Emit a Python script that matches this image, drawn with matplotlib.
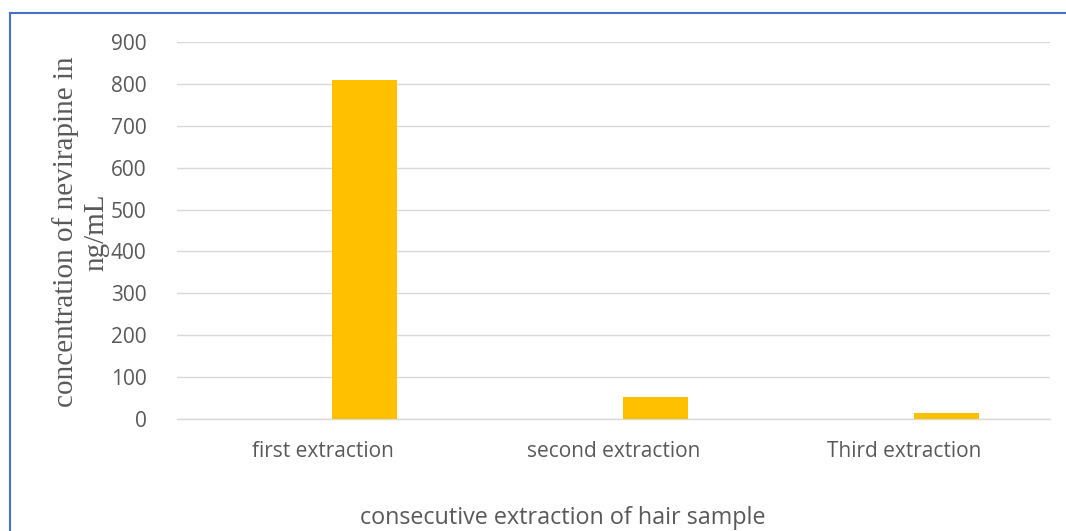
import matplotlib
matplotlib.use("Agg")
import matplotlib.pyplot as plt
from matplotlib.lines import Line2D

# concentracao de nevirapina por extracao consecutiva
categories = ["first extraction", "second extraction", "Third extraction"]
conc = [810, 52, 14]
yticks = [0, 100, 200, 300, 400, 500, 600, 700, 800, 900]

C_BAR = "#FFC000"
C_GRID = "#D9D9D9"
C_TEXT = "#595959"
C_FRAME = "#4472C4"

W, H = 1066, 531
fig = plt.figure(figsize=(W / 100, H / 100), dpi=100)
fig.patch.set_facecolor("white")

ax = fig.add_axes([177 / W, 1 - 419 / H, (1050 - 177) / W, (419 - 42) / H])
x = list(range(len(categories)))
ax.bar([i + 0.143 for i in x], conc, width=0.223, color=C_BAR, zorder=3)

ax.set_xlim(-0.5, len(categories) - 0.5)
ax.set_ylim(0, 900)
ax.set_yticks(yticks)
ax.set_yticklabels([str(v) for v in yticks])
ax.set_xticks(x)
ax.set_xticklabels(categories)
ax.grid(True, axis="y", color=C_GRID, linewidth=1.0, zorder=0)
for side in ("top", "right", "left"):
    ax.spines[side].set_visible(False)
ax.spines["bottom"].set_color(C_GRID)
ax.spines["bottom"].set_linewidth(1.0)
ax.tick_params(axis="both", length=0, colors=C_TEXT, labelsize=15)
ax.tick_params(axis="y", pad=22)
ax.tick_params(axis="x", pad=16)
for lab in ax.get_xticklabels() + ax.get_yticklabels():
    lab.set_family("Open Sans")

fig.text(81 / W, 1 - 232 / H, "concentration of nevirapine in\nng/mL",
         rotation=90, ha="center", va="center", multialignment="center",
         family="Liberation Serif", fontsize=21, color=C_TEXT,
         linespacing=1.2)
fig.text(563 / W, 1 - 518 / H, "consecutive extraction of hair sample",
         ha="center", va="center", family="Open Sans", fontsize=16.8,
         color=C_TEXT)

# moldura azul do grafico (so bordas superior e esquerda visiveis)
fig.add_artist(Line2D([10 / W, 10 / W], [0, 1 - 13 / H], color=C_FRAME,
                      linewidth=1.5, transform=fig.transFigure))
fig.add_artist(Line2D([10 / W, 1], [1 - 13 / H, 1 - 13 / H], color=C_FRAME,
                      linewidth=1.5, transform=fig.transFigure))

fig.savefig("out.png", dpi=100, facecolor="white")
